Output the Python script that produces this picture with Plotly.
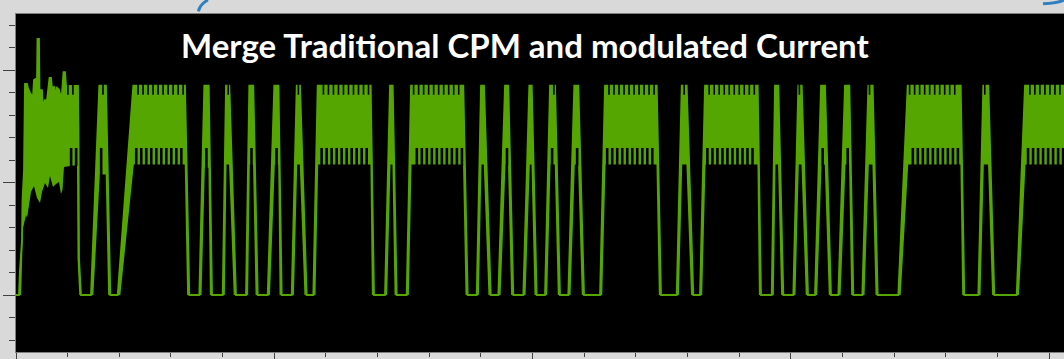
import numpy as np
import plotly.graph_objects as go

# ---- signal data (time in divisions, current in A) ----
top_level = 1.86          # upper switching level
base_level = 0.0          # valley floor

# start-up transient: upper edge and lower edge of the switching band
startup_upper_t = [0.0, 0.058, 0.077, 0.116, 0.126, 0.155, 0.174, 0.213, 0.232, 0.271, 0.329, 0.348,
                   0.407, 0.416, 0.445, 0.455, 0.503, 0.523, 0.561, 0.600, 0.649, 0.678, 0.697,
                   0.736, 0.755, 0.784, 0.833, 0.881, 0.920, 0.949, 0.968, 1.200, 1.210, 1.220, 1.258]
startup_upper_i = [0.0, 0.0, 0.222, 0.489, 0.844, 1.111, 1.876, 1.876, 1.840, 1.796, 1.760, 1.911,
                   1.929, 2.276, 2.276, 1.822, 1.822, 1.662, 1.733, 1.733, 1.929, 1.929, 1.840,
                   1.849, 1.733, 1.849, 1.822, 1.733, 1.982, 1.982, 1.858, 1.858, 1.467, 0.329, 0.0]
startup_lower_t = [0.097, 0.116, 0.136, 0.194, 0.213, 0.252, 0.290, 0.348, 0.407, 0.465, 0.503,
                   0.561, 0.620, 0.658, 0.716, 0.774, 0.833, 0.871, 0.900, 0.929, 1.181, 1.191, 1.229]
startup_lower_i = [-0.044, 0.400, 0.596, 0.711, 0.684, 0.800, 0.916, 0.969, 0.862, 0.818, 0.916,
                   0.996, 0.951, 1.058, 0.960, 0.987, 1.004, 0.898, 0.933, 1.138, 1.156, 0.329, -0.044]

# trapezoidal current pulses after start-up
ramp_start = [1.452, 1.969, 3.549, 4.002, 4.453, 4.873, 5.338, 5.756, 7.144, 7.564, 8.920, 9.338, 9.822,
              10.242, 10.693, 11.307, 12.792, 13.243, 14.631, 15.049, 15.469, 15.921, 16.385, 17.082,
              18.631, 19.374]
top_start = [1.613, 2.271, 3.646, 4.066, 4.517, 5.001, 5.435, 5.841, 7.241, 7.648, 9.003, 9.468, 9.938,
             10.339, 10.809, 11.404, 12.889, 13.340, 14.695, 15.146, 15.586, 16.050, 16.502, 17.264,
             18.728, 19.535]
top_end = [1.742, 3.272, 3.731, 4.130, 4.594, 5.082, 5.499, 6.867, 7.293, 8.660, 9.061, 9.531, 9.985,
           10.436, 10.887, 12.405, 12.985, 14.360, 14.759, 15.212, 15.663, 16.134, 16.586, 18.290,
           18.825, 21.000]
ramp_end = [1.826, 3.355, 3.795, 4.259, 4.680, 5.144, 5.628, 6.931, 7.371, 8.745, 9.191, 9.628, 10.081,
            10.532, 10.997, 12.488, 13.113, 14.424, 14.856, 15.334, 15.779, 16.211, 16.683, 18.360,
            18.941, 21.100]
valley_level = [1.07, 1.16, 1.13, 1.16, 1.16, 1.16, 1.16, 1.16, 1.16, 1.16, 1.16, 1.16, 1.16,
                1.16, 1.16, 1.16, 1.16, 1.16, 1.16, 1.16, 1.16, 1.16, 1.16, 1.16, 1.16, 1.16]

# ---- drawing style ----
GREEN = "#55a700"
BLACK = "#000000"
pwm_period = 0.097        # switching period, in divisions
edge = 0.04               # visible thickness of the ramp edges
notch_depth = 0.08
comb_top = 1.307

outer_x, outer_y = [], []
inner_x, inner_y = [], []
trace_x, trace_y = list(startup_upper_t), list(startup_upper_i)

# start-up band
outer_x += startup_upper_t + [None]
outer_y += startup_upper_i + [None]
inner_x += startup_lower_t + [None]
inner_y += startup_lower_i + [None]

for r0, ro, fo, f0, lv in zip(ramp_start, top_start, top_end, ramp_end, valley_level):
    outer_x += [r0, ro, fo, f0, None]
    outer_y += [base_level, top_level, top_level, base_level, None]
    inner_x += [r0 + edge, ro + 0.01, fo - 0.005, f0 - edge, None]
    inner_y += [-0.05, lv, lv, -0.05, None]
    trace_x += [r0, ro, fo, f0]
    trace_y += [base_level, top_level, top_level, base_level]

# switching notches on the flat tops (start-up plateau included)
tops = [(0.968, 1.2, 1.156)] + list(zip(top_start, top_end, valley_level))
notch_x, notch_y, gap_x, gap_y = [], [], [], []
for ts, te, lv in tops:
    k0 = int(np.floor(ts / pwm_period))
    k1 = int(np.ceil(te / pwm_period))
    for k in range(k0, k1 + 1):
        tn = k * pwm_period + 0.035
        if ts + 0.02 < tn < te - 0.02:
            notch_x += [tn, tn, None]
            notch_y += [top_level + 0.02, top_level - notch_depth, None]
        tg = k * pwm_period
        if ts + 0.03 < tg < te - 0.02:
            gap_x += [tg, tg, None]
            gap_y += [lv - 0.01, comb_top, None]

fig = go.Figure()
fig.add_trace(go.Scatter(x=outer_x, y=outer_y, mode="lines", fill="toself", fillcolor=GREEN,
                         line=dict(width=0), hoverinfo="skip", showlegend=False))
fig.add_trace(go.Scatter(x=inner_x, y=inner_y, mode="lines", fill="toself", fillcolor=BLACK,
                         line=dict(width=0), hoverinfo="skip", showlegend=False))
fig.add_trace(go.Scatter(x=trace_x, y=trace_y, mode="lines", line=dict(color=GREEN, width=1.8),
                         hoverinfo="skip", showlegend=False))
fig.add_trace(go.Scatter(x=gap_x, y=gap_y, mode="lines", line=dict(color=BLACK, width=2.6),
                         hoverinfo="skip", showlegend=False))
fig.add_trace(go.Scatter(x=notch_x, y=notch_y, mode="lines", line=dict(color=BLACK, width=1.6),
                         hoverinfo="skip", showlegend=False))

axis_common = dict(showgrid=False, zeroline=False, showline=True, linecolor="#7f7f7f", linewidth=1,
                   mirror=True, ticks="outside", tickcolor="#404040", tickwidth=1,
                   showticklabels=False, fixedrange=True)

fig.update_layout(
    width=1064, height=359,
    margin=dict(l=16, r=0, t=14, b=7),
    paper_bgcolor="#d9d9d9",
    plot_bgcolor=BLACK,
    xaxis=dict(range=[0, 20.29], dtick=5, tick0=0, ticklen=7,
               minor=dict(ticks="outside", dtick=1, tick0=0, ticklen=4, tickcolor="#404040"),
               **axis_common),
    yaxis=dict(range=[-0.5067, 2.4978], dtick=1, tick0=0, ticklen=12,
               minor=dict(ticks="outside", dtick=0.2, tick0=0, ticklen=6, tickcolor="#404040"),
               **axis_common),
    annotations=[dict(text="<b>Merge Traditional CPM and modulated Current</b>",
                      xref="paper", yref="paper", x=0.4857, y=0.907,
                      xanchor="center", yanchor="middle", showarrow=False,
                      font=dict(family="Lato", size=33, color="white"))],
    shapes=[
        dict(type="path", xref="paper", yref="paper",
             path="M 0.1832,1.0414 Q 0.1760,1.0300 0.1740,1.0080",
             line=dict(color="#2f7fc1", width=3)),
        dict(type="path", xref="paper", yref="paper",
             path="M 1.0000,1.0414 Q 0.9950,1.0330 0.9800,1.0300",
             line=dict(color="#2f7fc1", width=3)),
    ],
)

fig.write_html("out.html", config={"displayModeBar": False})
